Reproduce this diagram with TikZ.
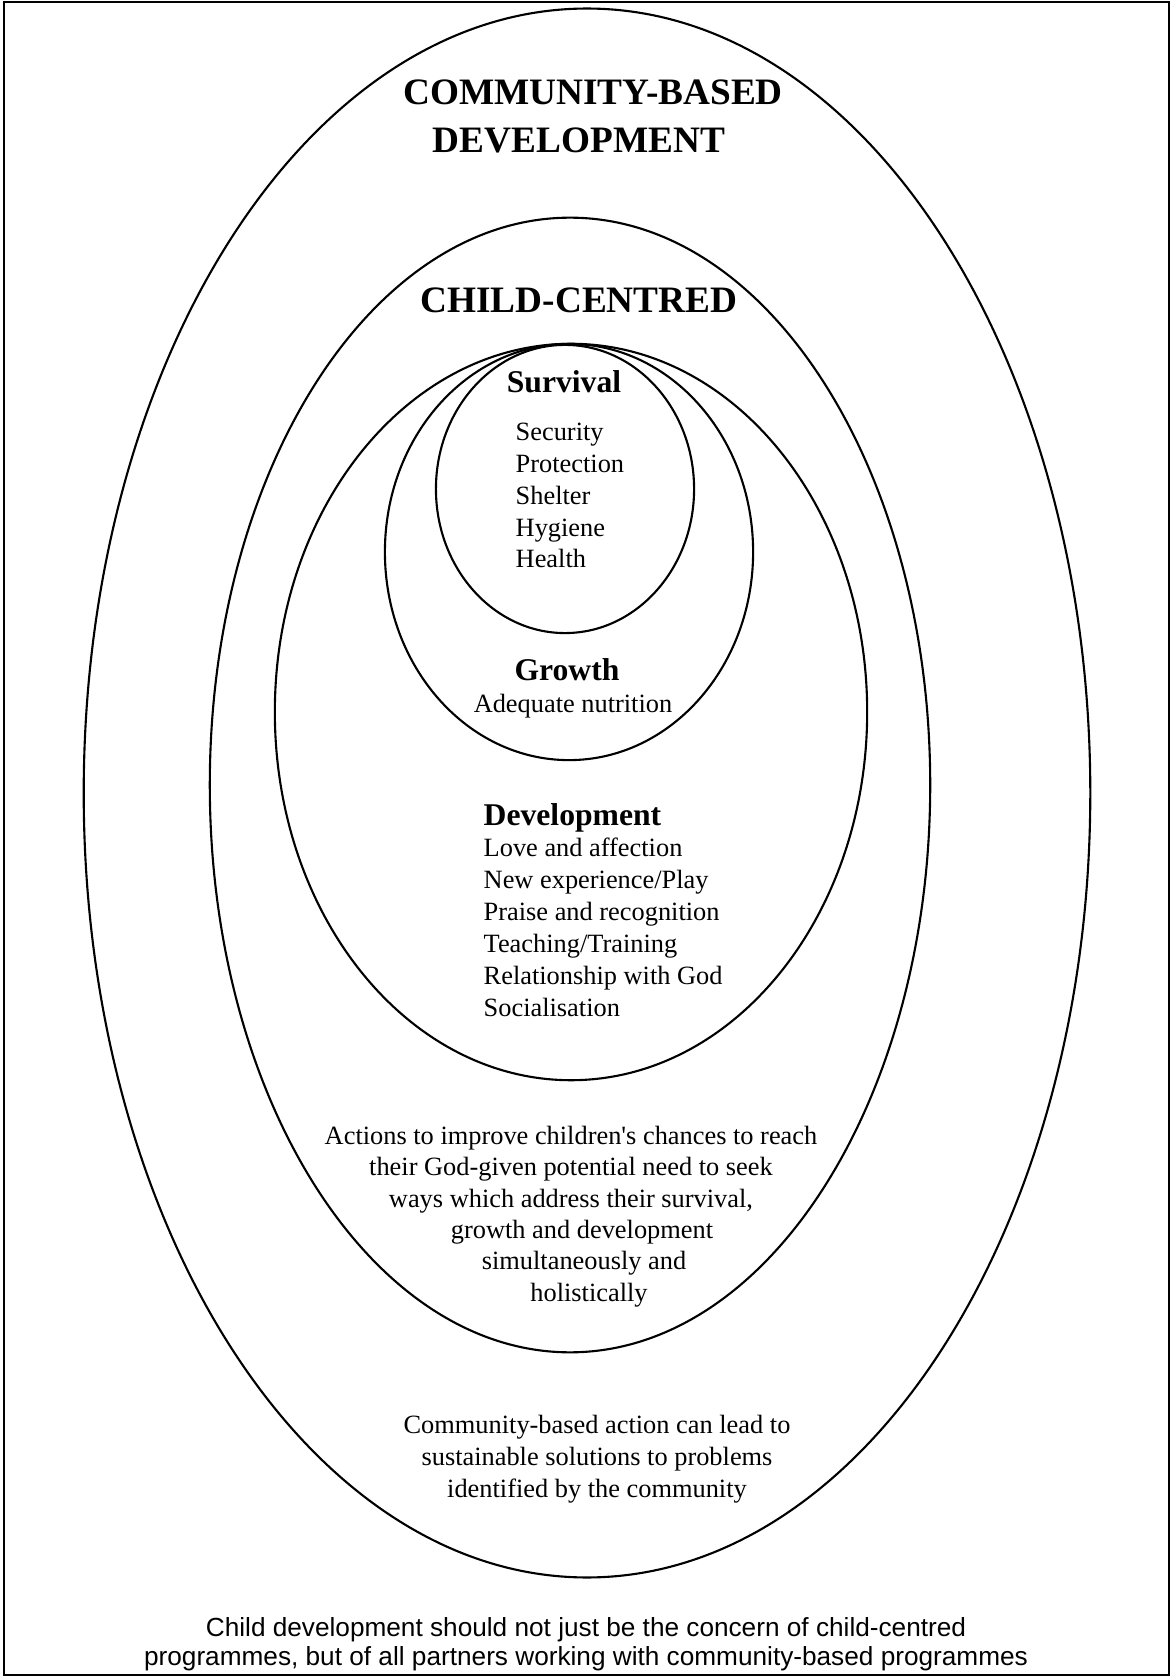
\documentclass[tikz,border=0pt]{standalone}
\usepackage{fontspec}
\setmainfont{Liberation Serif}[Ligatures=TeXOff]
\setsansfont{Liberation Sans}
\usetikzlibrary{shapes}

\begin{document}
\begin{tikzpicture}[x=0.01cm,y=-0.01cm]
 \tikzstyle{ring}=[draw,ellipse,inner sep=0pt,line width=0.6pt]
 \tikzstyle{bigtitle}=[font=\bfseries\fontsize{10.6}{13.66}\selectfont,align=center,anchor=base,inner sep=0pt]
 \tikzstyle{heading}=[font=\bfseries\fontsize{9}{11}\selectfont,anchor=base,inner sep=0pt]
 \tikzstyle{itemlist}=[font=\fontsize{7.5}{9.05}\selectfont,align=left,anchor=base west,inner sep=0pt]
 \tikzstyle{remark}=[font=\fontsize{7.5}{8.9}\selectfont,align=center,anchor=base,inner sep=0pt]
 \tikzstyle{footnote}=[font=\sffamily\fontsize{7.45}{8.25}\selectfont,align=center,anchor=base,inner sep=0pt]

 \useasboundingbox (0,0) rectangle (1171,1677);
 \draw[line width=0.75pt] (4,2) rectangle (1169,1675);

   \node[ring,minimum width=10.06cm,minimum height=15.68cm] (cbd)    at (587,793) {};
   \node[ring,minimum width=7.2cm,minimum height=11.34cm]   (cc)     at (570,785) {};
   \node[ring,minimum width=5.92cm,minimum height=7.36cm]   (devel)  at (571,712) {};
   \node[ring,minimum width=3.68cm,minimum height=4.16cm]   (growth) at (569,552) {};
   \node[ring,minimum width=2.58cm,minimum height=2.88cm]   (surv)   at (565,489) {};

   % multi-line nodes sit on the baseline of their last line
   \node[bigtitle] (cbdtitle) at (593,153) {COMMUNITY-BASED\\DEVELOPMENT\hspace*{0.28cm}};
   \node[bigtitle] (cctitle)  at (579,313) {CHILD-CENTRED};

   \node[heading]  (survtitle) at (564,393) {Survival};
   \node[itemlist] (survlist)  at (515,568) {Security\\Protection\\Shelter\\Hygiene\\Health};

   \node[heading]  (growtitle) at (567,681) {Growth};
   \node[remark]   (growlist)  at (573,712) {Adequate nutrition};

   \node[heading,anchor=base west] (devtitle) at (483,825) {Development};
   \node[itemlist] (devlist)   at (483,1016) {Love and affection\\New experience/Play\\Praise and recognition\\Teaching/Training\\Relationship with God\\Socialisation};

   \node[remark] (actions) at (571,1301) {Actions to improve children's chances to reach\\their God-given potential need to seek\\ways which address their survival,\\\hspace*{0.22cm}growth and development\\\hspace*{0.26cm}simultaneously and\\\hspace*{0.36cm}holistically};

   \node[remark,font=\fontsize{7.5}{9.1}\selectfont] (cbaction) at (597,1497) {Community-based action can lead to\\sustainable solutions to problems\\identified by the community};

   \node[footnote] (concern) at (586,1665) {Child development should not just be the concern of child-centred\\programmes, but of all partners working with community-based programmes};
\end{tikzpicture}
\end{document}
